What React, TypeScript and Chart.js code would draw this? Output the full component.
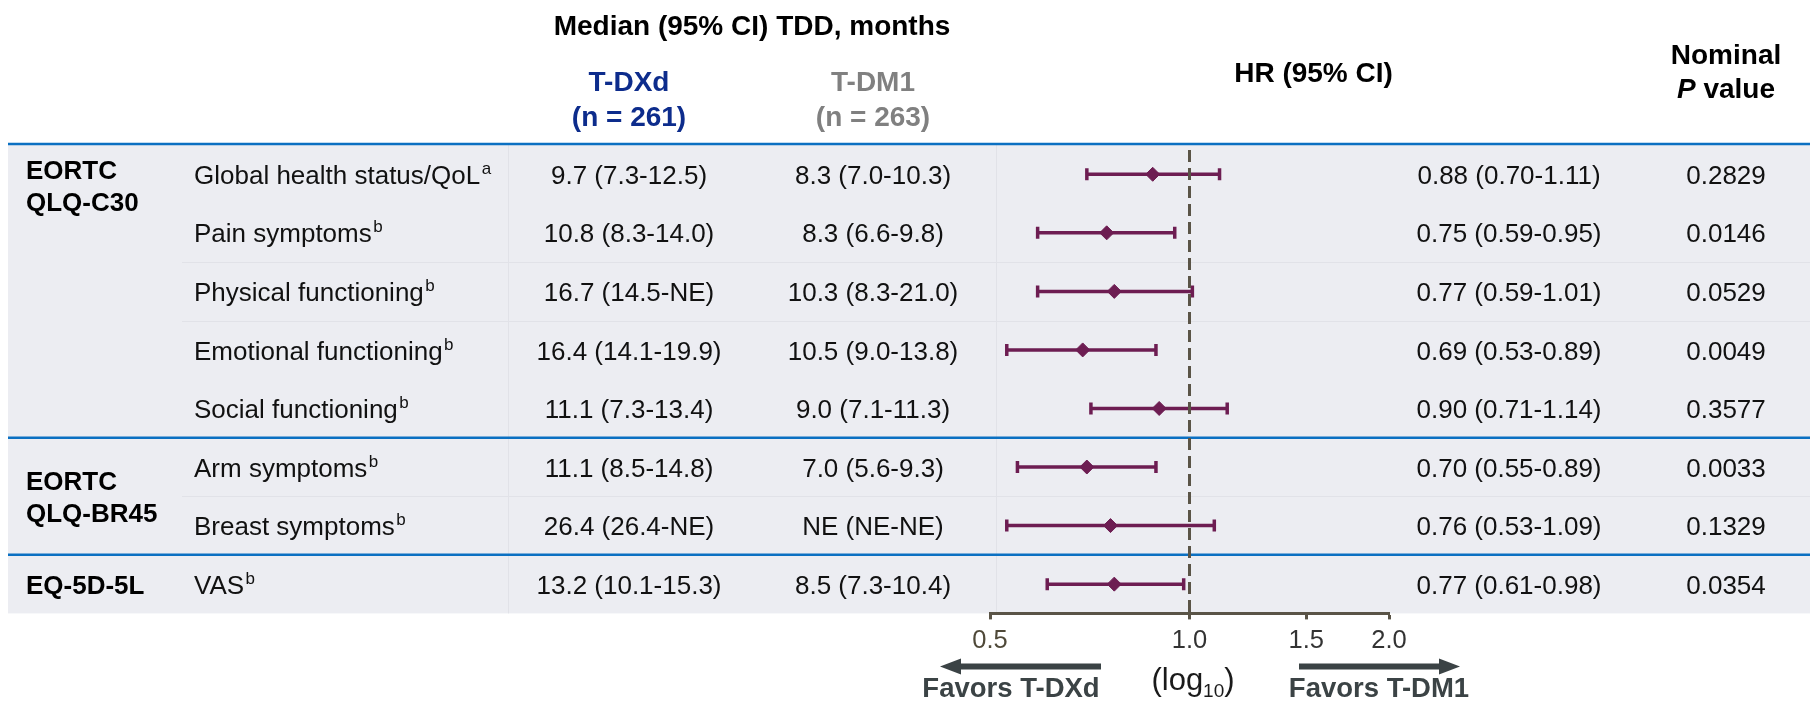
import { useEffect, useRef } from 'react';
import { Chart, registerables } from 'chart.js';

Chart.register(...registerables);

// ---- data ----
const groupNames = [['EORTC', 'QLQ-C30'], ['EORTC', 'QLQ-BR45'], ['EQ-5D-5L']];
const groupSizes = [5, 2, 1];

const measures = [
  'Global health status/QoL',
  'Pain symptoms',
  'Physical functioning',
  'Emotional functioning',
  'Social functioning',
  'Arm symptoms',
  'Breast symptoms',
  'VAS',
];
const footnotes = ['a', 'b', 'b', 'b', 'b', 'b', 'b', 'b'];

const tdxdMedians = [
  '9.7 (7.3-12.5)',
  '10.8 (8.3-14.0)',
  '16.7 (14.5-NE)',
  '16.4 (14.1-19.9)',
  '11.1 (7.3-13.4)',
  '11.1 (8.5-14.8)',
  '26.4 (26.4-NE)',
  '13.2 (10.1-15.3)',
];
const tdm1Medians = [
  '8.3 (7.0-10.3)',
  '8.3 (6.6-9.8)',
  '10.3 (8.3-21.0)',
  '10.5 (9.0-13.8)',
  '9.0 (7.1-11.3)',
  '7.0 (5.6-9.3)',
  'NE (NE-NE)',
  '8.5 (7.3-10.4)',
];

const hrValues = [0.88, 0.75, 0.77, 0.69, 0.9, 0.7, 0.76, 0.77];
const hrLower = [0.7, 0.59, 0.59, 0.53, 0.71, 0.55, 0.53, 0.61];
const hrUpper = [1.11, 0.95, 1.01, 0.89, 1.14, 0.89, 1.09, 0.98];
const pValues = ['0.2829', '0.0146', '0.0529', '0.0049', '0.3577', '0.0033', '0.1329', '0.0354'];

const axisTicks = [0.5, 1.0, 1.5, 2.0];

// ---- styling ----
const FONT = '"Liberation Sans", Arial, Helvetica, sans-serif';
const W = 1810;
const H = 702;
const C = {
  band: '#ecedf2',
  rule: '#0b70c2',
  faint: '#e1e2e8',
  marker: '#6d1d52',
  axis: '#5a5447',
  text: '#111111',
  tdxd: '#0d2c8c',
  tdm1: '#808080',
  arrow: '#3b4345',
};
const COL = { group: 26, measure: 194, tdxd: 629, tdm1: 873, hr: 1509, p: 1726 };
const thinRuleAfter = [1, 2, 5];
const columnRules = [508.5, 996.5];

function text(
  ctx: CanvasRenderingContext2D,
  s: string,
  x: number,
  y: number,
  font: string,
  color: string,
  align: CanvasTextAlign = 'center'
) {
  ctx.font = font;
  ctx.fillStyle = color;
  ctx.textAlign = align;
  ctx.textBaseline = 'alphabetic';
  ctx.fillText(s, x, y);
}

function hline(ctx: CanvasRenderingContext2D, x1: number, x2: number, y: number) {
  ctx.beginPath();
  ctx.moveTo(x1, y);
  ctx.lineTo(x2, y);
  ctx.stroke();
}

function arrow(ctx: CanvasRenderingContext2D, tail: number, tip: number, y: number) {
  const dir = Math.sign(tip - tail);
  const headLen = 21;
  const headHalf = 8;
  const shaftHalf = 3;
  const base = tip - dir * headLen;
  ctx.fillStyle = C.arrow;
  ctx.beginPath();
  ctx.moveTo(tail, y - shaftHalf);
  ctx.lineTo(base, y - shaftHalf);
  ctx.lineTo(base, y - headHalf);
  ctx.lineTo(tip, y);
  ctx.lineTo(base, y + headHalf);
  ctx.lineTo(base, y + shaftHalf);
  ctx.lineTo(tail, y + shaftHalf);
  ctx.closePath();
  ctx.fill();
}

const tablePlugin = {
  id: 'forestTable',
  beforeDraw(chart: Chart) {
    const { ctx } = chart;
    const ys = chart.scales.y;
    const top = ys.getPixelForValue(-0.5);
    const bottom = ys.getPixelForValue(measures.length - 0.5);
    ctx.save();

    ctx.fillStyle = '#ffffff';
    ctx.fillRect(0, 0, W, H);
    ctx.fillStyle = C.band;
    ctx.fillRect(8, top, W - 8, bottom - top);

    // faint grid of the table
    ctx.strokeStyle = C.faint;
    ctx.lineWidth = 1;
    for (const cx of columnRules) {
      ctx.beginPath();
      ctx.moveTo(cx, top);
      ctx.lineTo(cx, bottom);
      ctx.stroke();
    }
    for (const r of thinRuleAfter) {
      const yy = Math.round(ys.getPixelForValue(r + 0.5)) + 0.5;
      hline(ctx, 182, W, yy);
    }

    // blue rules: header and group boundaries
    ctx.strokeStyle = C.rule;
    ctx.lineWidth = 2.5;
    hline(ctx, 8, W, top - 1);
    let acc = 0;
    groupSizes.slice(0, -1).forEach((n) => {
      acc += n;
      hline(ctx, 8, W, ys.getPixelForValue(acc - 0.5));
    });

    // header
    const hb = `bold 28px ${FONT}`;
    text(ctx, 'Median (95% CI) TDD, months', 752, 34.5, hb, '#000');
    text(ctx, 'T-DXd', COL.tdxd, 91, hb, C.tdxd);
    text(ctx, '(n = 261)', COL.tdxd, 125.5, hb, C.tdxd);
    text(ctx, 'T-DM1', COL.tdm1, 91, hb, C.tdm1);
    text(ctx, '(n = 263)', COL.tdm1, 125.5, hb, C.tdm1);
    text(ctx, 'HR (95% CI)', 1313.5, 81.5, hb, '#000');
    text(ctx, 'Nominal', COL.p, 64, hb, '#000');
    ctx.font = `italic bold 28px ${FONT}`;
    const wP = ctx.measureText('P').width;
    ctx.font = hb;
    const wV = ctx.measureText(' value').width;
    const px = COL.p - (wP + wV) / 2;
    text(ctx, 'P', px, 97.5, `italic bold 28px ${FONT}`, '#000', 'left');
    text(ctx, ' value', px + wP, 97.5, hb, '#000', 'left');

    // group labels
    const gb = `bold 26px ${FONT}`;
    let start = 0;
    groupNames.forEach((lines, g) => {
      const n = groupSizes[g];
      let firstCenter: number;
      if (n > 2) {
        firstCenter = ys.getPixelForValue(start) - 4.5;
      } else {
        const mid = ys.getPixelForValue(start + (n - 1) / 2);
        firstCenter = mid - ((lines.length - 1) * 32) / 2;
      }
      lines.forEach((s, k) => text(ctx, s, COL.group, firstCenter + k * 32 + 9.4, gb, '#000', 'left'));
      start += n;
    });

    // rows
    const body = `26px ${FONT}`;
    measures.forEach((m, i) => {
      const base = ys.getPixelForValue(i) + 9.6;
      text(ctx, m, COL.measure, base, body, C.text, 'left');
      ctx.font = body;
      const w = ctx.measureText(m).width;
      text(ctx, footnotes[i], COL.measure + w + 1.5, base - 10, `17px ${FONT}`, C.text, 'left');
      text(ctx, tdxdMedians[i], COL.tdxd, base, body, C.text);
      text(ctx, tdm1Medians[i], COL.tdm1, base, body, C.text);
      const hrLabel = `${hrValues[i].toFixed(2)} (${hrLower[i].toFixed(2)}-${hrUpper[i].toFixed(2)})`;
      text(ctx, hrLabel, COL.hr, base, body, C.text);
      text(ctx, pValues[i], COL.p, base, body, C.text);
    });

    // direction arrows and axis caption
    arrow(ctx, 1101, 940, 666.5);
    arrow(ctx, 1299, 1460, 666.5);
    const fb = `bold 27.5px ${FONT}`;
    text(ctx, 'Favors T-DXd', 1011, 696.5, fb, C.arrow);
    text(ctx, 'Favors T-DM1', 1379, 696.5, fb, C.arrow);

    const mainF = `31px ${FONT}`;
    const subF = `19px ${FONT}`;
    ctx.font = mainF;
    const w1 = ctx.measureText('(log').width;
    const w3 = ctx.measureText(')').width;
    ctx.font = subF;
    const w2 = ctx.measureText('10').width;
    const lx = 1193 - (w1 + w2 + w3) / 2;
    text(ctx, '(log', lx, 690, mainF, '#1a1a1a', 'left');
    text(ctx, '10', lx + w1, 697, subF, '#1a1a1a', 'left');
    text(ctx, ')', lx + w1 + w2, 690, mainF, '#1a1a1a', 'left');

    ctx.restore();
  },
  afterDatasetsDraw(chart: Chart) {
    const { ctx, chartArea } = chart;
    const x1 = chart.scales.x.getPixelForValue(1);
    ctx.save();
    ctx.strokeStyle = C.axis;
    ctx.lineWidth = 3;
    ctx.setLineDash([12, 6]);
    ctx.beginPath();
    ctx.moveTo(x1, 150);
    ctx.lineTo(x1, chartArea.bottom);
    ctx.stroke();
    ctx.restore();
  },
};

export default function App() {
  const ref = useRef<HTMLCanvasElement | null>(null);

  useEffect(() => {
    if (!ref.current) return;

    const ciDatasets = measures.map((_, i) => ({
      data: [
        { x: hrLower[i], y: i },
        { x: hrUpper[i], y: i },
      ],
      showLine: true,
      borderColor: C.marker,
      borderWidth: 3.5,
      pointStyle: 'line',
      pointRotation: 90,
      pointRadius: 6,
      pointBorderWidth: 3.5,
      pointBorderColor: C.marker,
      pointBackgroundColor: C.marker,
      order: 1,
    }));

    const hrDataset = {
      data: hrValues.map((v, i) => ({ x: v, y: i })),
      showLine: false,
      pointStyle: 'rectRot',
      pointRadius: 7,
      pointBackgroundColor: C.marker,
      pointBorderColor: C.marker,
      pointBorderWidth: 1,
      order: 0,
    };

    const chart = new Chart(ref.current, {
      type: 'scatter',
      data: { datasets: [hrDataset, ...ciDatasets] as any },
      options: {
        responsive: false,
        animation: false,
        events: [],
        layout: { padding: { left: 990, right: W - 1389, top: 145, bottom: 40 } },
        plugins: {
          legend: { display: false },
          tooltip: { enabled: false },
          title: { display: false },
        },
        scales: {
          x: {
            type: 'logarithmic',
            position: 'bottom',
            min: 0.5,
            max: 2,
            afterBuildTicks: (s: any) => {
              s.ticks = axisTicks.map((v) => ({ value: v }));
            },
            ticks: {
              autoSkip: false,
              maxRotation: 0,
              padding: 6,
              font: { family: FONT, size: 25.5 },
              color: (c: any) => (c.tick && c.tick.value === 0.5 ? '#4f4939' : '#333333'),
              callback: (v: any) => Number(v).toFixed(1),
            },
            grid: {
              drawOnChartArea: false,
              drawTicks: true,
              tickLength: 6,
              tickWidth: 3,
              tickColor: C.axis,
            },
            border: { display: true, color: C.axis, width: 3 },
          },
          y: {
            type: 'linear',
            min: -0.5,
            max: measures.length - 0.5,
            reverse: true,
            display: false,
          },
        },
      } as any,
      plugins: [tablePlugin as any],
    });

    return () => chart.destroy();
  }, []);

  return (
    <div style={{ position: 'absolute', left: 0, top: 0, width: W, height: H, background: '#fff' }}>
      <canvas ref={ref} width={W} height={H} style={{ display: 'block' }} />
    </div>
  );
}
